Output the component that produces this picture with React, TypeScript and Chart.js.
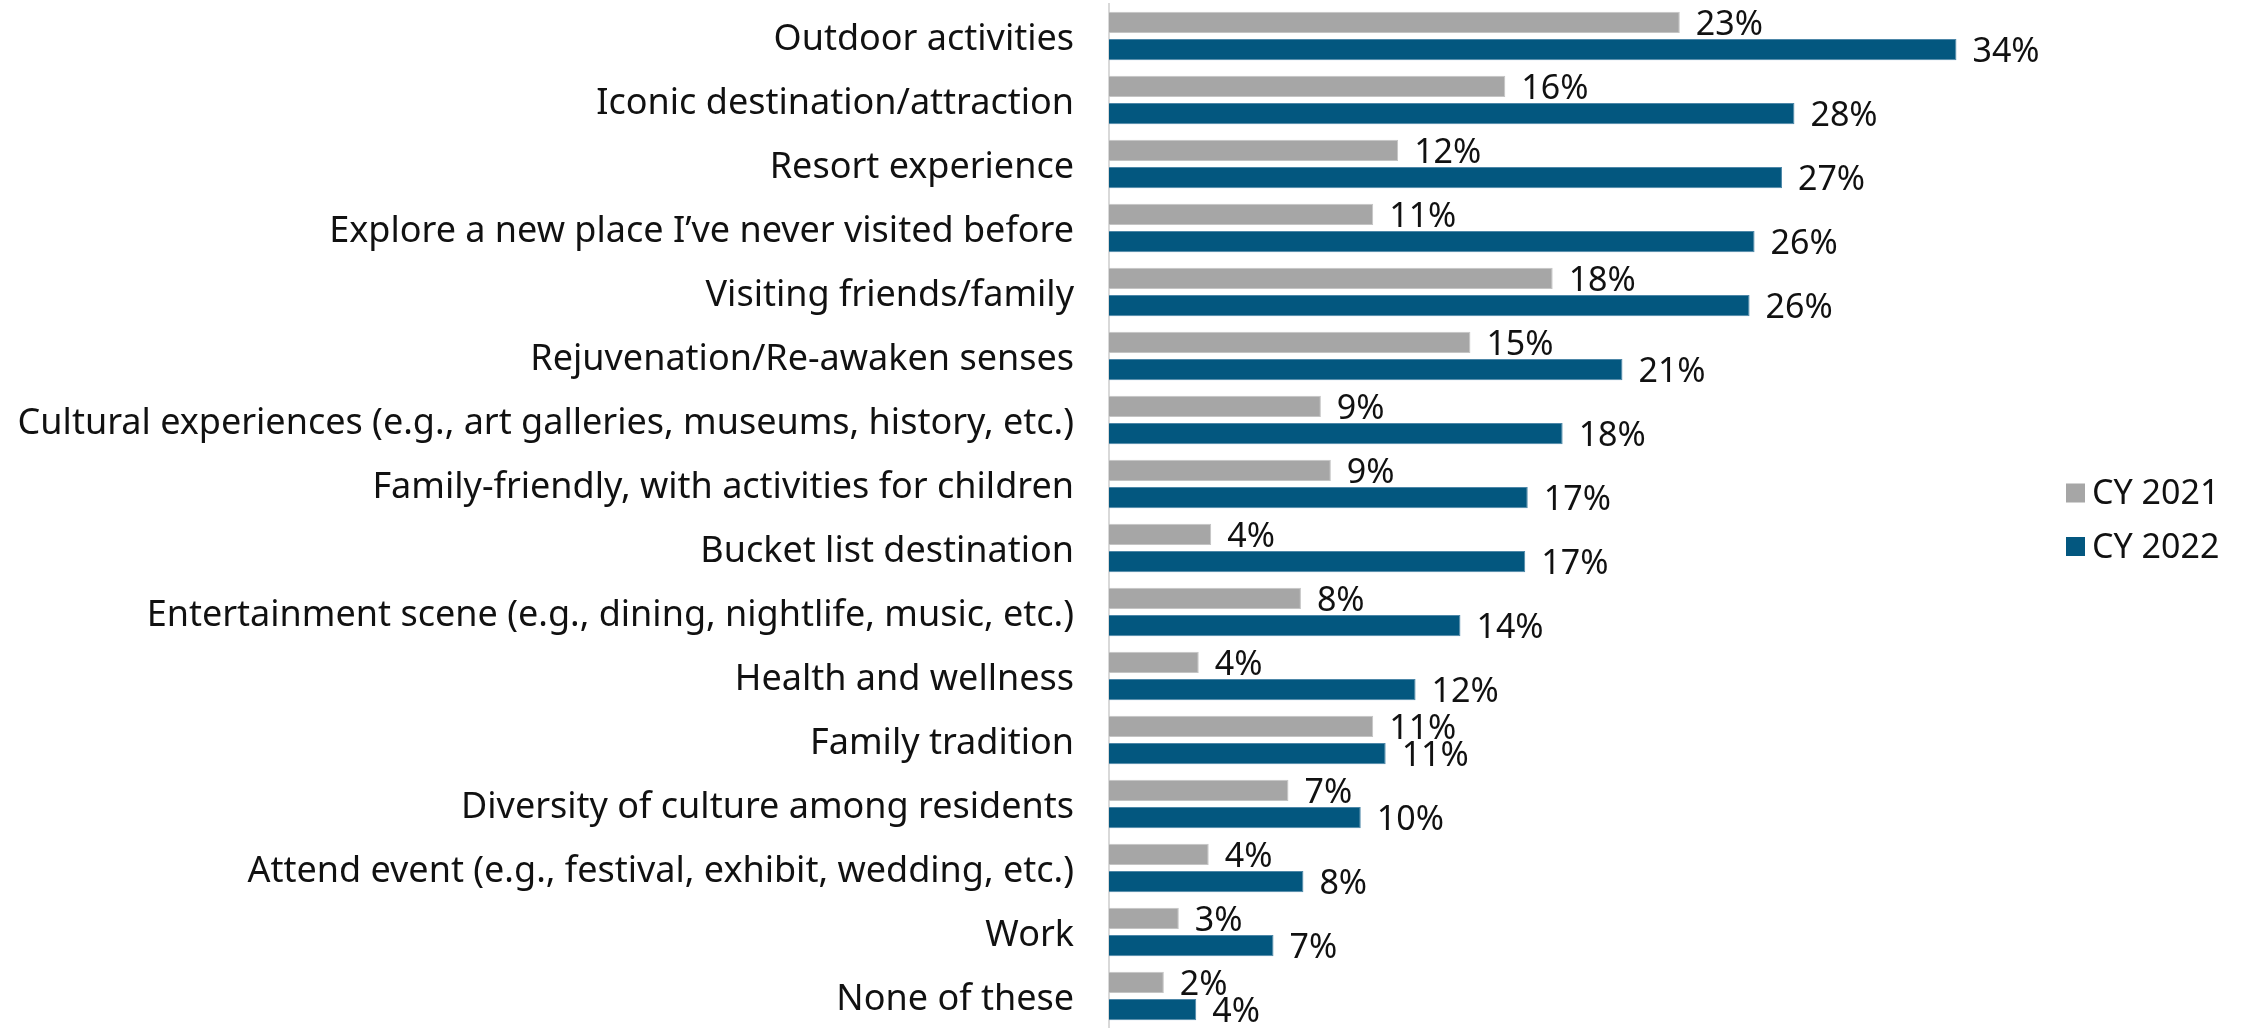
import React, { useEffect, useRef } from "react";
import { Chart, registerables } from "chart.js";
Chart.register(...registerables);

const categories = [
  "Outdoor activities",
  "Iconic destination/attraction",
  "Resort experience",
  "Explore a new place I’ve never visited before",
  "Visiting friends/family",
  "Rejuvenation/Re-awaken senses",
  "Cultural experiences (e.g., art galleries, museums, history, etc.)",
  "Family-friendly, with activities for children",
  "Bucket list destination",
  "Entertainment scene (e.g., dining, nightlife, music, etc.)",
  "Health and wellness",
  "Family tradition",
  "Diversity of culture among residents",
  "Attend event (e.g., festival, exhibit, wedding, etc.)",
  "Work",
  "None of these",
];
const seriesNames = ["CY 2021", "CY 2022"];
const cy2021 = [22.9, 15.9, 11.6, 10.6, 17.8, 14.5, 8.5, 8.9, 4.1, 7.7, 3.6, 10.6, 7.2, 4.0, 2.8, 2.2];
const cy2022 = [34.0, 27.5, 27.0, 25.9, 25.7, 20.6, 18.2, 16.8, 16.7, 14.1, 12.3, 11.1, 10.1, 7.8, 6.6, 3.5];
const labels2021 = ["23%", "16%", "12%", "11%", "18%", "15%", "9%", "9%", "4%", "8%", "4%", "11%", "7%", "4%", "3%", "2%"];
const labels2022 = ["34%", "28%", "27%", "26%", "26%", "21%", "18%", "17%", "17%", "14%", "12%", "11%", "10%", "8%", "7%", "4%"];

const FONT = "'Noto Sans'";
const TEXT = "#111111";

export default function App() {
  const ref = useRef<HTMLCanvasElement>(null);

  useEffect(() => {
    if (!ref.current) return;
    const valueLabels = [labels2021, labels2022];
    const dataLabelPlugin = {
      id: "dataLabels",
      afterDatasetsDraw(chart: any) {
        const ctx = chart.ctx;
        ctx.save();
        ctx.font = `34px ${FONT}`;
        ctx.fillStyle = TEXT;
        ctx.textAlign = "left";
        ctx.textBaseline = "middle";
        chart.data.datasets.forEach((_ds: any, i: number) => {
          const meta = chart.getDatasetMeta(i);
          meta.data.forEach((el: any, j: number) => {
            ctx.fillText(valueLabels[i][j], el.x + 16, el.y + 3);
          });
        });
        ctx.restore();
      },
    };
    const legendPlugin = {
      id: "customLegend",
      afterDraw(chart: any) {
        const ctx = chart.ctx;
        ctx.save();
        ctx.font = `34px ${FONT}`;
        ctx.textAlign = "left";
        ctx.textBaseline = "middle";
        chart.data.datasets.forEach((ds: any, i: number) => {
          const top = 483.5 + i * 53.5;
          ctx.fillStyle = ds.backgroundColor;
          ctx.fillRect(2066, top, 19, 19);
          ctx.fillStyle = TEXT;
          ctx.fillText(ds.label, 2092, top + 11);
        });
        ctx.restore();
      },
    };

    const chart = new Chart(ref.current, {
      type: "bar",
      data: {
        labels: categories,
        datasets: [
          {
            label: seriesNames[0],
            data: cy2021,
            backgroundColor: "#a6a6a6",
            borderColor: "#c4c4c4",
            borderWidth: 1,
            categoryPercentage: 0.853,
            barPercentage: 0.78,
          },
          {
            label: seriesNames[1],
            data: cy2022,
            backgroundColor: "#03577f",
            borderColor: "#4d87a8",
            borderWidth: 1,
            categoryPercentage: 0.853,
            barPercentage: 0.78,
          },
        ],
      },
      options: {
        indexAxis: "y",
        animation: false,
        responsive: true,
        maintainAspectRatio: false,
        layout: { padding: { top: 4, right: 148, bottom: 0, left: 0 } },
        plugins: { legend: { display: false }, tooltip: { enabled: false } },
        scales: {
          x: { display: false, min: 0, max: 40 },
          y: {
            grid: { display: false, drawTicks: false },
            border: { display: true, color: "#d9d9d9", width: 2 },
            ticks: {
              color: TEXT,
              padding: 35,
              labelOffset: 4,
              font: { family: FONT, size: 36 },
              autoSkip: false,
            },
            afterFit(scale: any) {
              scale.width = 1109;
              scale.paddingTop = 0;
              scale.paddingBottom = 0;
            },
          },
        },
      },
      plugins: [dataLabelPlugin, legendPlugin],
    });
    return () => chart.destroy();
  }, []);

  return (
    <div style={{ position: "fixed", left: 0, top: 0, width: 2254, height: 1028, background: "#fff" }}>
      <canvas ref={ref} />
    </div>
  );
}
